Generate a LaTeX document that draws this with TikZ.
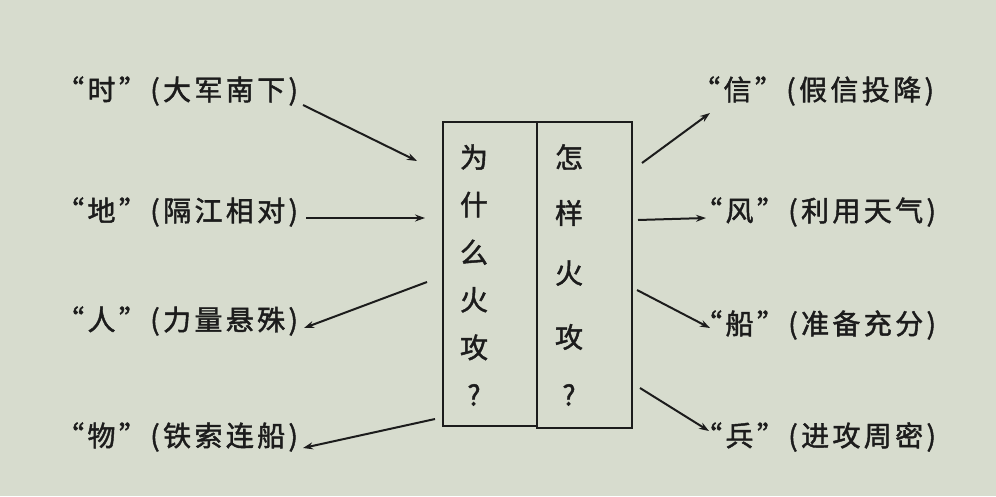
\documentclass[tikz,border=0pt]{standalone}
\usepackage{fontspec}
\newfontfamily\cjk[FakeBold=1.6,LetterSpace=12]{Noto Sans CJK SC}
\newfontfamily\cjkcol[FakeBold=1.6]{Noto Sans CJK SC}
\usetikzlibrary{calc}
\usetikzlibrary{arrows.meta}
\usetikzlibrary{positioning}
\definecolor{paper}{RGB}{215,220,206}
\definecolor{ink}{RGB}{28,28,28}
\tikzset{lbl/.style={anchor=west,inner sep=0pt,text=ink,font=\cjk\fontsize{28}{28}\selectfont}}
\tikzset{glyph/.style={inner sep=0pt,text=ink,font=\cjkcol\fontsize{28}{28}\selectfont}}
\tikzset{col/.style={draw=ink,line width=1.8pt,minimum width=94pt,inner sep=0pt}}

\begin{document}
\begin{tikzpicture}[x=1pt,y=-1pt,arr/.style={-{Stealth[length=10pt,width=7pt]},draw=ink,line width=2pt}]
	\fill[paper] (0,0) rectangle (996,496);
	% the two columns in the middle
	\node[col,minimum height=304pt] (why) at (490,274) {};
	\node[col,minimum height=306pt,minimum width=95pt] (how) at (584.5,275) {};
	\foreach \ch [count=\i] in {为,什,么,火,攻,?}
	  \node[glyph] (w\i) at (474,{157+47.6*(\i-1)}) {\ch};
	\foreach \ch/\y [count=\i] in {怎/157,样/213,火/273,攻/337,?/395}
	  \node[glyph] (h\i) at (569,\y) {\ch};
	% left side
	\node[lbl] (shi) at (56,91) {“时”(大军南下)};
	\node[lbl] (di) at (56,212) {“地”(隔江相对)};
	\node[lbl] (ren) at (56,321) {“人”(力量悬殊)};
	\node[lbl] (wu) at (56,437) {“物”(铁索连船)};
	% right side
	\node[lbl] (xin) at (692,91) {“信”(假信投降)};
	\node[lbl] (feng) at (694,212) {“风”(利用天气)};
	\node[lbl] (chuan) at (694,325) {“船”(准备充分)};
	\node[lbl] (bing) at (694,437) {“兵”(进攻周密)};
	% free ends near the box
	\coordinate (a1) at (417,161);
	\coordinate (a2) at (425,218);
	\coordinate (a3) at (427,282);
	\coordinate (a4) at (435,419);
	\coordinate (b1) at (642,163);
	\coordinate (b2) at (638,220);
	\coordinate (b3) at (637,290);
	\coordinate (b4) at (640,388);
	\draw[arr] ($(shi.west)+(247,14)$) -- (a1);
	\draw[arr] ($(di.west)+(250,6)$) -- (a2);
	\draw[arr] (a3) -- ($(ren.west)+(248,7)$);
	\draw[arr] (a4) -- ($(wu.west)+(247,11)$);
	\draw[arr] (b1) -- ($(xin.west)+(18,22)$);
	\draw[arr] (b2) -- ($(feng.west)+(12,6)$);
	\draw[arr] (b3) -- ($(chuan.west)+(16,3)$);
	\draw[arr] (b4) -- ($(bing.west)+(15,-6)$);
\end{tikzpicture}
\end{document}
